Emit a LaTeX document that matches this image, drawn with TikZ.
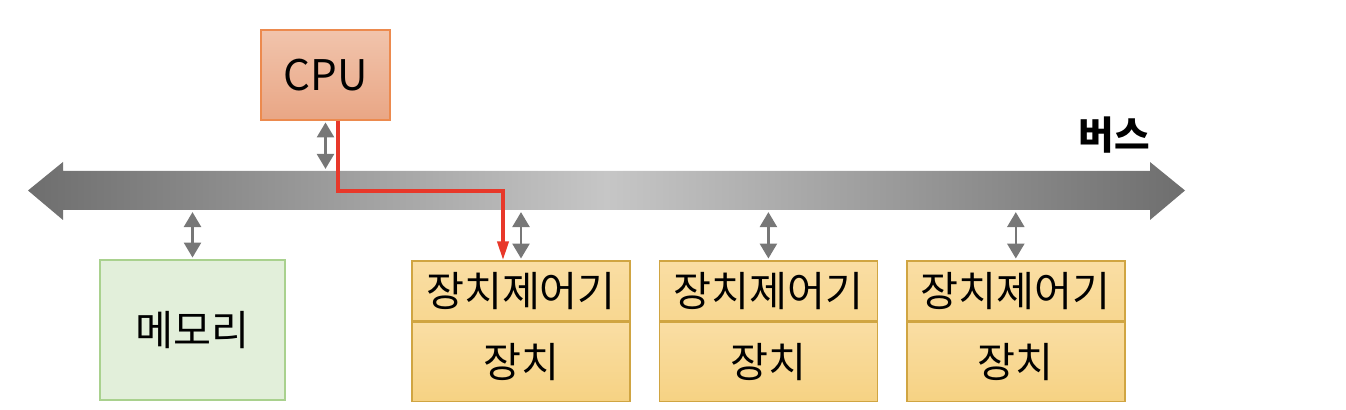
\documentclass[tikz,border=0pt]{standalone}
\usepackage{fontspec}
\setmainfont{Noto Sans CJK KR}
\usepackage{tikz}
\usetikzlibrary{positioning, calc, arrows.meta}

\definecolor{cpuTop}{HTML}{F1C4AC}
\definecolor{cpuBot}{HTML}{E9A685}
\definecolor{cpuLine}{HTML}{EC8A4E}
\definecolor{memFill}{HTML}{E2EFDA}
\definecolor{memLine}{HTML}{A9D18E}
\definecolor{devTop}{HTML}{FADEA4}
\definecolor{devBot}{HTML}{F6D283}
\definecolor{devLine}{HTML}{D0A542}
\definecolor{busDark}{HTML}{6E6E6E}
\definecolor{busLight}{HTML}{C6C6C6}
\definecolor{linkGray}{HTML}{777777}
\definecolor{flowRed}{HTML}{E8382A}

\begin{document}
\begin{tikzpicture}[
    node distance=0.56cm,
    box/.style={rectangle, draw, line width=0.8pt, inner sep=0pt, font=\fontsize{23.5}{27}\selectfont},
    cpubox/.style={box, draw=cpuLine, top color=cpuTop, bottom color=cpuBot, minimum width=2.58cm, minimum height=1.8cm, font=\fontsize{24}{28}\selectfont},
    membox/.style={box, draw=memLine, fill=memFill, minimum width=3.7cm, minimum height=2.8cm},
    ctrlbox/.style={box, draw=devLine, top color=devTop, bottom color=devBot!60!devTop, minimum width=4.36cm, minimum height=1.2cm},
    devbox/.style={box, draw=devLine, top color=devTop, bottom color=devBot, minimum width=4.36cm, minimum height=1.58cm},
    link/.style={{Triangle[width=0.34cm,length=0.3cm]}-{Triangle[width=0.34cm,length=0.3cm]}, line width=1.5pt, draw=linkGray, shorten <=1pt, shorten >=1pt},
    flow/.style={-{Triangle[width=0.22cm,length=0.38cm]}, line width=2.2pt, draw=flowRed}
]
    \useasboundingbox (0,0) rectangle (26.92,8.2);

    % bus
    \shade[left color=busDark, right color=busDark, middle color=busLight]
        (0.56,4.39) -- (1.26,4.96) -- (1.26,4.78) -- (23.0,4.78) -- (23.0,4.96) -- (23.7,4.39)
        -- (23.0,3.8) -- (23.0,4.0) -- (1.26,4.0) -- (1.26,3.8) -- cycle;
    \node[inner sep=0pt, minimum width=21.74cm, minimum height=0.78cm] (bus) at (12.13,4.39) {};
    \node[font=\bfseries\fontsize{22}{26}\selectfont] (buslabel) at (22.28,5.5) {버스};

    \node[cpubox] (cpu) at (6.51,6.7) {CPU};
    \node[membox] (mem) at (3.85,1.6) {메모리};

    \node[ctrlbox] (ctrl1) at (10.42,2.38) {장치제어기};
    \node[devbox, below=0cm of ctrl1] (dev1) {장치};
    \node[ctrlbox, right=of ctrl1] (ctrl2) {장치제어기};
    \node[devbox, below=0cm of ctrl2] (dev2) {장치};
    \node[ctrlbox, right=of ctrl2] (ctrl3) {장치제어기};
    \node[devbox, below=0cm of ctrl3] (dev3) {장치};

    \draw[link] (cpu.south) -- (cpu.south |- bus.north);
    \draw[link] (bus.south -| mem.north) -- (mem.north);
    \draw[link] (bus.south -| ctrl1.north) -- (ctrl1.north);
    \draw[link] (bus.south -| ctrl2.north) -- (ctrl2.north);
    \draw[link] (bus.south -| ctrl3.north) -- (ctrl3.north);

    \draw[flow] ([xshift=0.25cm]cpu.south) -- ++(0,-1.4) -| ([xshift=-0.36cm]ctrl1.north);
\end{tikzpicture}
\end{document}
